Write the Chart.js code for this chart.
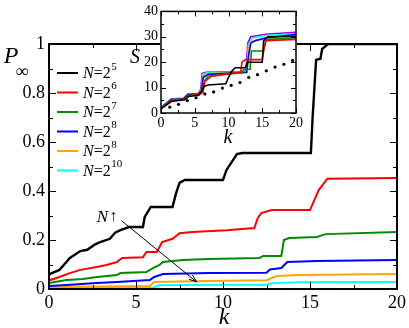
<!DOCTYPE html>
<html><head><meta charset="utf-8">
<script src="https://cdn.jsdelivr.net/npm/chart.js@4.4.1/dist/chart.umd.min.js"></script>
<style>
html,body{margin:0;padding:0;background:#fff;}
#wrap{position:relative;width:409px;height:328px;}
#main{position:absolute;left:0;top:0;}
#inset{position:absolute;left:120px;top:0;}
</style></head>
<body>
<div id="wrap">
<canvas id="main" width="409" height="328"></canvas>
<canvas id="inset" width="185" height="150"></canvas>
</div>
<script>
// ---------- main panel data: P_inf vs k ----------
const legendExp = ['5','6','7','8','8','10'];
const mainColors = ['#000000','#ff0000','#008b00','#0000ff','#ffa500','#00ffff'];
const p32 = [[0,0.06],[0.6,0.078],[1.0,0.11],[1.2,0.127],[1.8,0.155],[2.2,0.16],[2.6,0.18],[2.9,0.19],[3.5,0.205],[3.8,0.23],[4.1,0.24],[4.6,0.253],[5.4,0.253],[5.5,0.294],[5.85,0.335],[7.1,0.335],[7.3,0.39],[7.5,0.433],[7.8,0.445],[10.0,0.445],[10.2,0.486],[10.5,0.518],[10.8,0.551],[11.1,0.555],[15.05,0.555],[15.15,0.70],[15.35,0.935],[15.6,0.94],[15.7,0.98],[16.05,1.0],[20,1.0]];
const p64 = [[0,0.035],[0.6,0.049],[1.2,0.065],[1.8,0.078],[2.75,0.09],[3.3,0.098],[3.9,0.11],[4.2,0.127],[5.4,0.13],[5.6,0.151],[6.2,0.151],[6.5,0.192],[7.1,0.205],[7.5,0.228],[8.25,0.233],[10.2,0.24],[11.8,0.249],[12.0,0.29],[12.2,0.31],[12.8,0.322],[15.0,0.322],[15.25,0.363],[15.5,0.404],[16.0,0.45],[20,0.453]];
const p128 = [[0,0.024],[1.0,0.037],[1.95,0.041],[2.75,0.049],[3.9,0.057],[4.1,0.065],[5.6,0.069],[6.0,0.086],[6.35,0.098],[6.55,0.11],[7.7,0.118],[9.2,0.122],[12.1,0.127],[12.3,0.135],[13.35,0.135],[13.5,0.2],[13.8,0.208],[15.4,0.212],[15.9,0.224],[20,0.233]];
const p256 = [[0,0.012],[1.0,0.016],[2.75,0.024],[3.9,0.029],[5.8,0.037],[6.05,0.049],[6.55,0.061],[9.2,0.065],[12.5,0.066],[12.7,0.08],[13.35,0.086],[13.7,0.11],[15.4,0.114],[20,0.118]];
const p512 = [[0,0.008],[5.8,0.012],[6.05,0.029],[9.2,0.033],[12.5,0.036],[12.8,0.045],[13.1,0.053],[14.4,0.057],[20,0.061]];
const p1024 = [[0,0.004],[6.0,0.006],[6.35,0.016],[12.5,0.017],[12.8,0.024],[14.4,0.028],[20,0.029]];
const mainSeries = [p32,p64,p128,p256,p512,p1024];
const mainXTicks = [0,5,10,15,20];
const mainYTicks = [0,0.2,0.4,0.6,0.8,1];
const arrowFrom = [4.18,0.278], arrowTo = [8.48,0.029], arrowText = [2.75,0.29];

// ---------- inset data: S vs k ----------
const insetColors = ['#000000','#ff0000','#008b00','#0000ff','#ffa500','#00ffff','#9400d3'];
const s32 = [[0,1.6],[1.5,4.5],[3.5,5.2],[4.1,6.5],[5.6,7],[6.1,9],[6.4,10.5],[7,11],[9.6,11.5],[10,14],[10.5,16.5],[11,17.8],[12.5,17.8],[12.8,20],[15,20],[15.2,28.5],[15.8,30],[20,30.2]];
const s64 = [[0,1.8],[1.5,4.8],[3.5,5.4],[4.1,6.8],[5.6,7.3],[6.2,8],[6.5,12.5],[7.5,14.5],[10,15.5],[11.8,16],[12,20],[12.5,21],[15,21],[15.3,26],[15.6,28.5],[20,29]];
const s128 = [[0,1.8],[1.5,5],[3.5,5.5],[4.1,7],[5.6,7.5],[6.1,8.5],[6.4,12.5],[7,14.5],[12,15.8],[12.2,17],[13.2,17.2],[13.4,24.4],[15.2,24.4],[15.5,28.5],[16,29],[20,29.6]];
const s256 = [[0,2],[1.5,5.3],[3.4,5.6],[4.0,7.3],[5.5,7.6],[6.0,8.5],[6.25,14],[7,15.2],[12.7,16],[13.0,23],[13.3,27.5],[14,28.5],[15.5,29.5],[20,31]];
const s512 = [[0,2],[1.5,5.2],[3.4,5.6],[4,7.2],[5.5,7.5],[6,9],[6.2,14.5],[7,15.5],[12.7,16],[12.95,25],[13.2,28],[15.5,29.5],[20,30.3]];
const s1024 = [[0,2],[1.5,5.4],[3.4,5.7],[4.0,7.4],[5.5,7.6],[6.0,9],[6.2,15.2],[6.8,15.8],[12.7,16],[12.95,27],[13.5,29.5],[15.5,30.5],[20,31.2]];
const s2048 = [[0,2.1],[1.5,5.5],[3.3,5.8],[4.0,7.5],[5.5,7.7],[5.9,9.3],[6.1,15.6],[6.7,16],[12.6,16.2],[12.85,27.5],[13.3,30],[15.5,31],[20,31.8]];
const insetSeries = [s32,s64,s128,s256,s512,s1024,s2048];
const dotK = [1.3,2.6,3.9,5.2,6.5,7.8,9.1,10.4,11.7,13,14.3,15.6,16.9,18.2,19.5];
const dotS = [2.3,3.4,4.9,6,7.5,8.3,9.8,10.9,12,14,15.1,16.6,18.1,19.2,20.7];
const insetXTicks = [0,5,10,15,20];
const insetYTicks = [0,10,20,30,40];

const SERIF = '"Liberation Serif","Times New Roman",serif';
const toPts = arr => arr.map(p => ({x:p[0], y:p[1]}));
const fmt = v => String(+Number(v).toFixed(3));

function frameTicks(chart, o){
  const {ctx, chartArea:a, scales:{x,y}} = chart;
  ctx.save();
  ctx.strokeStyle='#000';
  ctx.lineWidth=o.lw;
  ctx.strokeRect(a.left,a.top,a.right-a.left,a.bottom-a.top);
  ctx.lineWidth=1;
  ctx.beginPath();
  for(let v=o.xmin; v<=o.xmax+1e-9; v+=o.xminor){
    const isMaj = Math.abs(v/o.xmajor-Math.round(v/o.xmajor))<1e-6;
    const L = isMaj?o.maj:o.min;
    const px = Math.round(x.getPixelForValue(v))+0.5;
    ctx.moveTo(px,a.bottom); ctx.lineTo(px,a.bottom-L);
    ctx.moveTo(px,a.top); ctx.lineTo(px,a.top+L);
  }
  for(let v=o.ymin; v<=o.ymax+1e-9; v+=o.yminor){
    const isMaj = Math.abs(v/o.ymajor-Math.round(v/o.ymajor))<1e-6;
    const L = isMaj?o.maj:o.min;
    const py = Math.round(y.getPixelForValue(v))+0.5;
    ctx.moveTo(a.left,py); ctx.lineTo(a.left+L,py);
    ctx.moveTo(a.right,py); ctx.lineTo(a.right-L,py);
  }
  ctx.stroke();
  ctx.restore();
}

// ---------- main chart ----------
new Chart(document.getElementById('main'), {
  type:'line',
  data:{datasets: mainSeries.map((s,i)=>({
    data: toPts(s), borderColor: mainColors[i], borderWidth: i===0?2.4:2,
    pointRadius:0, tension:0, fill:false
  }))},
  options:{
    responsive:false, animation:false, devicePixelRatio:1,
    layout:{padding:{top:44,right:11,left:0,bottom:0}},
    plugins:{legend:{display:false}, tooltip:{enabled:false}},
    scales:{
      x:{type:'linear', min:0, max:20,
         afterBuildTicks: sc => { sc.ticks = mainXTicks.map(v=>({value:v})); },
         afterFit: sc => { sc.height = 39; },
         grid:{display:false, drawTicks:false}, border:{display:false},
         ticks:{font:{family:SERIF,size:18}, color:'#000', padding:3, maxRotation:0, callback: fmt}},
      y:{type:'linear', min:0, max:1,
         afterBuildTicks: sc => { sc.ticks = mainYTicks.map(v=>({value:v})); },
         afterFit: sc => { sc.width = 49; },
         grid:{display:false, drawTicks:false}, border:{display:false},
         ticks:{font:{family:SERIF,size:18}, color:'#000', padding:4, callback: fmt}}
    }
  },
  plugins:[{
    id:'decor',
    afterDraw(chart){
      frameTicks(chart,{lw:2,xmin:0,xmax:20,xminor:2.5,xmajor:5,ymin:0,ymax:1,yminor:0.1,ymajor:0.2,maj:7,min:4});
      const ctx = chart.ctx, {x,y} = chart.scales;
      ctx.save();
      ctx.fillStyle='#000'; ctx.textBaseline='middle'; ctx.textAlign='center';
      ctx.font='italic 24px '+SERIF; ctx.fillText('P',11,57);
      ctx.font='18px '+SERIF; ctx.fillText('\u221E',22,72);
      ctx.font='italic 24px '+SERIF; ctx.fillText('k',224,318);
      ctx.textAlign='left';
      legendExp.forEach((e,i)=>{
        const yy = 73 + i*19.5;
        ctx.strokeStyle = mainColors[i]; ctx.lineWidth = 2;
        ctx.beginPath(); ctx.moveTo(57,yy); ctx.lineTo(78,yy); ctx.stroke();
        let xx = 83;
        ctx.font='italic 16px '+SERIF; ctx.fillText('N',xx,yy+1); xx += ctx.measureText('N').width;
        ctx.font='16px '+SERIF; ctx.fillText('=2',xx,yy+1); xx += ctx.measureText('=2').width;
        ctx.font='11px '+SERIF; ctx.fillText(e,xx+0.5,yy-6);
      });
      const x1=x.getPixelForValue(arrowFrom[0]), y1=y.getPixelForValue(arrowFrom[1]);
      const x2=x.getPixelForValue(arrowTo[0]), y2=y.getPixelForValue(arrowTo[1]);
      ctx.strokeStyle='#000'; ctx.lineWidth=1;
      ctx.beginPath(); ctx.moveTo(x1,y1); ctx.lineTo(x2,y2); ctx.stroke();
      const ang = Math.atan2(y2-y1,x2-x1), h=8;
      ctx.beginPath();
      ctx.moveTo(x2,y2); ctx.lineTo(x2-h*Math.cos(ang-0.35), y2-h*Math.sin(ang-0.35));
      ctx.moveTo(x2,y2); ctx.lineTo(x2-h*Math.cos(ang+0.35), y2-h*Math.sin(ang+0.35));
      ctx.stroke();
      const tx=x.getPixelForValue(arrowText[0]), ty=y.getPixelForValue(arrowText[1]);
      ctx.font='italic 17px '+SERIF; ctx.fillText('N',tx,ty);
      const w=ctx.measureText('N').width;
      ctx.font='16px '+SERIF; ctx.fillText('\u2191',tx+w+1,ty-1);
      ctx.restore();
    }
  }]
});

// ---------- inset chart ----------
const insetDatasets = insetSeries.map((s,i)=>({
  data: toPts(s), borderColor: insetColors[i], borderWidth:1.6,
  pointRadius:0, tension:0, fill:false
}));
insetDatasets.push({
  data: dotK.map((k,i)=>({x:k,y:dotS[i]})), showLine:false,
  pointRadius:1.6, pointBackgroundColor:'#000', pointBorderWidth:0, borderColor:'#000'
});
new Chart(document.getElementById('inset'), {
  type:'line',
  data:{datasets: insetDatasets},
  options:{
    responsive:false, animation:false, devicePixelRatio:1,
    layout:{padding:{top:7,right:8,left:0,bottom:0}},
    plugins:{legend:{display:false}, tooltip:{enabled:false}},
    scales:{
      x:{type:'linear', min:0, max:20,
         afterBuildTicks: sc => { sc.ticks = insetXTicks.map(v=>({value:v})); },
         afterFit: sc => { sc.height = 37; },
         grid:{display:false, drawTicks:false}, border:{display:false},
         ticks:{font:{family:SERIF,size:14}, color:'#000', padding:2, maxRotation:0, callback: fmt}},
      y:{type:'linear', min:0, max:40,
         afterBuildTicks: sc => { sc.ticks = insetYTicks.map(v=>({value:v})); },
         afterFit: sc => { sc.width = 41; },
         grid:{display:false, drawTicks:false}, border:{display:false},
         ticks:{font:{family:SERIF,size:14}, color:'#000', padding:3, callback: fmt}}
    }
  },
  plugins:[{
    id:'insetBg',
    beforeDatasetsDraw(chart){
      const {ctx, chartArea:a} = chart;
      ctx.save(); ctx.fillStyle='#fff'; ctx.fillRect(a.left-1,a.top-1,a.right-a.left+2,a.bottom-a.top+2); ctx.restore();
    },
    afterDraw(chart){
      frameTicks(chart,{lw:1.5,xmin:0,xmax:20,xminor:2.5,xmajor:5,ymin:0,ymax:40,yminor:5,ymajor:10,maj:5,min:3});
      const ctx = chart.ctx;
      ctx.save(); ctx.fillStyle='#000'; ctx.textAlign='center'; ctx.textBaseline='middle';
      ctx.font='italic 20px '+SERIF;
      ctx.fillText('S',15,58);
      ctx.fillText('k',108,138);
      ctx.restore();
    }
  }]
});
</script>
</body></html>
